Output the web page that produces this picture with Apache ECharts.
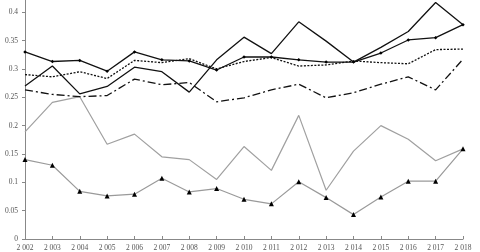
<!DOCTYPE html>
<html><head><meta charset="utf-8">
<script src="https://cdn.jsdelivr.net/npm/echarts@6/dist/echarts.min.js"></script>
<style>html,body{margin:0;padding:0;background:#fff}#c{width:480px;height:252px}</style>
</head><body><div id="c"></div>
<script>
const years = ['2 002','2 003','2 004','2 005','2 006','2 007','2 008','2 009','2 010','2 011','2 012','2 013','2 014','2 015','2 016','2 017','2 018'];
const blackMarked = [0.330,0.313,0.315,0.296,0.330,0.316,0.314,0.298,0.321,0.321,0.316,0.312,0.312,0.328,0.351,0.355,0.378];
const blackPlain  = [0.270,0.305,0.256,0.269,0.303,0.295,0.259,0.316,0.356,0.327,0.383,0.349,0.312,0.338,0.366,0.417,0.378];
const blackDotted = [0.290,0.286,0.295,0.283,0.315,0.311,0.318,0.300,0.313,0.320,0.305,0.307,0.314,0.311,0.309,0.334,0.335];
const blackDashDot= [0.263,0.255,0.251,0.253,0.282,0.272,0.276,0.242,0.249,0.263,0.273,0.249,0.258,0.273,0.286,0.263,0.317];
const grayPlain   = [0.189,0.241,0.251,0.167,0.185,0.145,0.140,0.105,0.163,0.121,0.218,0.086,0.155,0.200,0.176,0.138,0.159];
const grayMarked  = [0.140,0.130,0.084,0.076,0.079,0.107,0.083,0.089,0.070,0.062,0.101,0.073,0.043,0.074,0.102,0.102,0.159];
const yTicks = ['0','0.05','0.1','0.15','0.2','0.25','0.3','0.35','0.4'];

const chart = echarts.init(document.getElementById('c'), null, {renderer:'canvas'});
const font = 'Liberation Serif';
function s(data, color, width, type, symbol, symColor, size){
  return {type:'line', data, symbol: symbol||'none', symbolSize: size||4,
    showSymbol: !!symbol, animation:false,
    itemStyle:{color: symColor||color},
    lineStyle:{color, width, type: type||'solid'}};
}
chart.setOption({
  animation:false,
  grid:{left:25, right:17, top:0, bottom:10, containLabel:false},
  xAxis:{type:'category', data:years, boundaryGap:false,
    axisLine:{lineStyle:{color:'#888', width:1}},
    axisTick:{show:true, inside:true, alignWithLabel:true, length:3, lineStyle:{color:'#888'}},
    axisLabel:{fontFamily:font, fontSize:7.5, color:'#555', margin:5, interval:0}},
  yAxis:{type:'value', min:0, max:0.4215, interval:0.05,
    axisLine:{show:true, lineStyle:{color:'#888', width:1}},
    axisTick:{show:true, length:3, lineStyle:{color:'#888'}},
    splitLine:{show:false},
    axisLabel:{fontFamily:font, fontSize:7.5, color:'#555', margin:7, showMaxLabel:false,
      formatter:v=>{const i=Math.round(v/0.05); return Math.abs(v-i*0.05)<1e-6 ? yTicks[i] : '';}}},
  series:[
    s(grayPlain,'#a0a0a0',1.2),
    s(grayMarked,'#9a9a9a',1.2,'solid','triangle','#000',5),
    s(blackDashDot,'#111',1.3,[8,3,2,3]),
    s(blackDotted,'#111',1.3,[2,1.5]),
    s(blackPlain,'#111',1.3),
    s(blackMarked,'#111',1.3,'solid','diamond','#000',3.5)
  ]
});
</script></body></html>
